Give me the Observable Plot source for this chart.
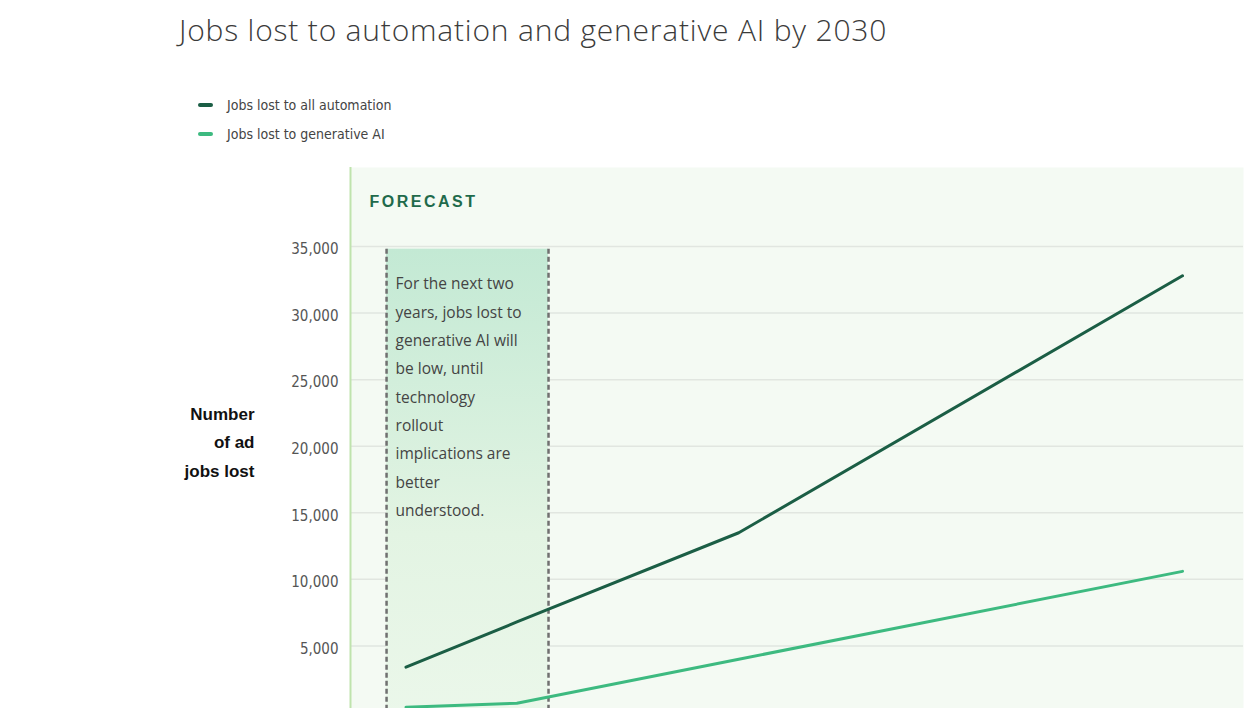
<!DOCTYPE html>
<html><head><meta charset="utf-8">
<script src="https://cdn.jsdelivr.net/npm/d3@7"></script>
<script src="https://cdn.jsdelivr.net/npm/@observablehq/plot@0.6"></script>
<style>
html,body{margin:0;padding:0;background:#fff;overflow:hidden;width:1260px;height:708px}
#title{position:absolute;left:179px;top:9px;font:300 30px "Open Sans",sans-serif;letter-spacing:0.8px;color:#3b3b3b;white-space:nowrap}
#legend{position:absolute;left:198px;top:90px;font:14px "Liberation Sans Narrow","DejaVu Sans Condensed",sans-serif;color:#444}
.item{display:flex;align-items:center;height:29px}
.sw{width:15px;height:4px;border-radius:2px;margin-right:14px}
#chart{position:absolute;left:0;top:167px}
</style></head>
<body>
<div id="title">Jobs lost to automation and generative AI by 2030</div>
<div id="legend"></div>
<div id="chart"></div>
<script>
const years = [2023, 2024, 2026, 2030];
const allAutomation = [3400, 6800, 13500, 32800];
const generativeAI = [400, 700, 4000, 10600];
const seriesNames = ["Jobs lost to all automation", "Jobs lost to generative AI"];
const seriesColors = ["#1b5e45", "#3dba80"];
const yTicks = [0, 5000, 10000, 15000, 20000, 25000, 30000, 35000];
const annotationSpan = [2022.825, 2024.285];
const annotationTop = 34800;
const annotationLines = ["For the next two", "years, jobs lost to", "generative AI will", "be low, until", "technology", "rollout", "implications are", "better", "understood."];
const panelLabel = "FORECAST";
const yLabel = ["Number", "of ad", "jobs lost"];

const legend = d3.select("#legend");
seriesNames.forEach((n, i) => {
  const it = legend.append("div").attr("class", "item");
  it.append("div").attr("class", "sw").style("background", seriesColors[i]);
  it.append("span").text(n);
});

const data = [
  ...years.map((y, i) => ({year: y, value: allAutomation[i], series: seriesNames[0]})),
  ...years.map((y, i) => ({year: y, value: generativeAI[i], series: seriesNames[1]}))
];

const gradient = () => {
  const defs = d3.create("svg:defs");
  const g = defs.append("linearGradient").attr("id", "annGrad").attr("x1", 0).attr("y1", 0).attr("x2", 0).attr("y2", 1);
  g.append("stop").attr("offset", "0%").attr("stop-color", "#c3e9d4");
  g.append("stop").attr("offset", "55%").attr("stop-color", "#e3f4e3");
  g.append("stop").attr("offset", "100%").attr("stop-color", "#edf8ec");
  return defs.node();
};

const chart = Plot.plot({
  width: 1260,
  height: 600,
  marginLeft: 350,
  marginRight: 17,
  marginTop: 79,
  marginBottom: 55,
  style: {fontFamily: '"Liberation Sans Narrow","DejaVu Sans Condensed",sans-serif', fontSize: "15px", color: "#555", background: "transparent"},
  x: {domain: [2022.5, 2030.55], axis: null},
  y: {domain: [0, 35000], axis: null},
  color: {domain: seriesNames, range: seriesColors},
  marks: [
    gradient,
    Plot.frame({fill: "#f4faf3", insetTop: -79, insetBottom: -55}),
    Plot.ruleY(yTicks, {stroke: "#e1e6e0", strokeWidth: 1.5}),
    Plot.rect([0], {x1: annotationSpan[0], x2: annotationSpan[1], y1: 0, y2: annotationTop, fill: "url(#annGrad)", insetBottom: -55}),
    Plot.ruleX(annotationSpan, {y1: annotationTop, y2: 0, stroke: "#707070", strokeWidth: 2.5, strokeDasharray: "5,3", insetBottom: -55}),
    Plot.ruleX([2022.5], {stroke: "#bfe3ad", strokeWidth: 2, insetTop: -79, insetBottom: -55}),
    Plot.axisY({ticks: yTicks, tickSize: 0, tickPadding: 12, tickFormat: d3.format(","), label: null, dy: 3, fill: "#555"}),
    Plot.line(data, {x: "year", y: "value", z: "series", stroke: "series", strokeWidth: 3}),
    Plot.text([panelLabel], {frameAnchor: "top-left", dx: 19, dy: -45, lineAnchor: "middle", textAnchor: "start", fontSize: 16, fontWeight: 800, fill: "#1f6a4b", fontFamily: '"Liberation Sans",Arial,sans-serif'}),
    Plot.text([annotationLines.join("\n")], {x: annotationSpan[0], y: annotationTop, dx: 9, dy: 20, textAnchor: "start", lineAnchor: "top", lineHeight: 1.83, fontSize: 15.5, fill: "#444", fontFamily: '"Open Sans",sans-serif'}),
    Plot.text([yLabel.join("\n")], {frameAnchor: "left", dx: -96, dy: -40, textAnchor: "end", lineAnchor: "middle", lineHeight: 1.65, fontSize: 17, fontWeight: "bold", fill: "#111", fontFamily: '"Liberation Sans",Arial,sans-serif'})
  ]
});
d3.select(chart).selectAll("text").filter(function() { return this.textContent === panelLabel; }).attr("letter-spacing", "2.5px");
document.getElementById("chart").appendChild(chart);
</script>
</body></html>
